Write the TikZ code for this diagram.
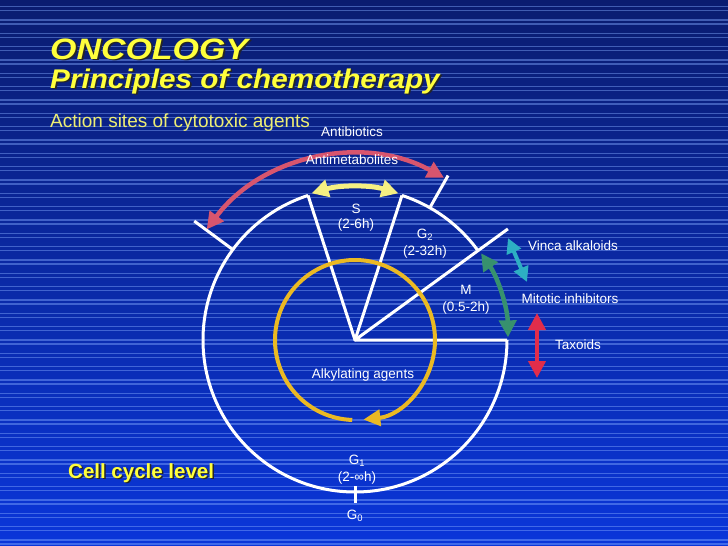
\documentclass[tikz,border=0pt]{standalone}
\usepackage{fontspec}
\setmainfont{Liberation Sans}
\usetikzlibrary{arrows.meta,calc}
\definecolor{bgtop}{RGB}{10,28,112}
\definecolor{bgbot}{RGB}{10,54,218}
\definecolor{stripecol}{RGB}{130,170,255}
\definecolor{titleyellow}{RGB}{255,255,60}
\definecolor{subyellow}{RGB}{238,238,115}
\definecolor{redarc}{RGB}{215,85,110}
\definecolor{yelarc}{RGB}{245,240,130}
\definecolor{greenarc}{RGB}{55,145,110}
\definecolor{cyanarc}{RGB}{45,175,195}
\definecolor{taxred}{RGB}{225,45,75}
\definecolor{alkyl}{RGB}{235,185,35}
\newcommand{\shtext}[2]{\makebox[0pt][l]{\hspace*{#1}\raisebox{-#1}{\textcolor{black!85}{#2}}}#2}
\begin{document}
\begin{tikzpicture}[x=1pt,y=1pt,
  stripe/.style={draw=stripecol, draw opacity=0.45, line width=1.1pt},
  cyc/.style={draw=white, line width=3pt, line join=round},
  lbl/.style={text=white, inner sep=0pt, font=\fontsize{13.5}{15}\selectfont},
  dbl/.style={line width=4.5pt, {Triangle[length=17pt,width=17pt]}-{Triangle[length=17pt,width=17pt]}},
  sdbl/.style={line width=4pt, {Triangle[length=15pt,width=15pt]}-{Triangle[length=15pt,width=15pt]}},
  titletxt/.style={text=titleyellow, inner sep=0pt}]
% background
\shade[top color=bgtop, bottom color=bgbot] (0,0) rectangle (728,-546);
\useasboundingbox (0,0) rectangle (728,-546);
\foreach \k in {0,...,41}{
  \draw[stripe] (0,{-6.67-13.333*\k}) -- ++(728,0);
  \draw[stripe] (0,{-10.67-13.333*\k}) -- ++(728,0);
}
% titles
\node[titletxt, anchor=base west, font=\fontsize{29.5}{31}\selectfont\bfseries\itshape] (t1) at (50,-59) {\scalebox{1.15}[1]{\shtext{1.5pt}{ONCOLOGY}}};
\node[titletxt, anchor=base west, font=\fontsize{27}{29}\selectfont\bfseries\itshape] (t2) at (50,-88) {\scalebox{1.1}[1]{\shtext{1.5pt}{Principles of chemotherapy}}};
\node[text=subyellow, inner sep=0pt, anchor=base west, font=\fontsize{19}{21}\selectfont] (sub) at (50,-127) {Action sites of cytotoxic agents};
\node[titletxt, anchor=base west, font=\fontsize{20.5}{22}\selectfont\bfseries] (cc) at (68,-478) {\shtext{1.5pt}{Cell cycle level}};
% cell cycle
\coordinate (O) at (355,-340);
\draw[cyc] (O) ++(0:152) arc[start angle=0, end angle=-252, radius=152];
\draw[cyc] (O) ++(72:152) arc[start angle=72, end angle=36, radius=152];
\draw[cyc] ($(O)+(108:152)$) -- (O) -- ($(O)+(72:152)$);
\draw[cyc] ($(O)+(36:189)$) -- (O) -- ($(O)+(0:152)$);
\draw[cyc] ($(O)+(143.5:152)$) -- ($(O)+(143.5:200)$);
\draw[cyc] ($(O)+(60.5:152)$) -- ($(O)+(60.5:189)$);
\draw[cyc] ($(O)+(270:146)$) -- ($(O)+(270:163)$);
% drug arrows
\draw[redarc, dbl] (O) ++(143.3:185) arc[start angle=143.3, end angle=61.2, radius=185];
\draw[yelarc, dbl, line width=5pt] (O) ++(106.5:153) arc[start angle=106.5, end angle=73.5, radius=153];
\draw[greenarc, dbl] (O) ++(34.5:153) arc[start angle=34.5, end angle=1, radius=153];
\coordinate (cy1) at (508,-238);
\coordinate (cy2) at (527,-282);
\draw[cyanarc, sdbl] (cy1) -- (cy2);
\coordinate (tx1) at (537,-313);
\coordinate (tx2) at (537,-378);
\draw[taxred, dbl, line width=4pt] (tx1) -- (tx2);
\draw[alkyl, line width=4pt, -{Triangle[length=17pt,width=16pt]}] (O) ++(268:80) arc[start angle=268, end angle=-84, radius=80];
% labels
\node[lbl] (antib) at (352,-132) {Antibiotics};
\node[lbl] (antim) at (352,-160) {Antimetabolites};
\node[lbl] (s) at (356,-209) {S};
\node[lbl] (sh) at (356,-225) {(2-6h)};
\node[lbl] (g2) at (425,-235) {G\textsubscript{2}};
\node[lbl] (g2h) at (425,-252) {(2-32h)};
\node[lbl] (m) at (466,-290) {M};
\node[lbl] (mh) at (466,-308) {(0.5-2h)};
\node[lbl] (vinca) at (573,-246) {Vinca alkaloids};
\node[lbl] (mit) at (570,-299) {Mitotic inhibitors};
\node[lbl] (tax) at (578,-345) {Taxoids};
\node[lbl] (alk) at (363,-375) {Alkylating agents};
\node[lbl] (g1) at (357,-461) {G\textsubscript{1}};
\node[lbl] (g1h) at (357,-478) {(2-∞h)};
\node[lbl] (g0) at (355,-516) {G\textsubscript{0}};
\end{tikzpicture}
\end{document}
